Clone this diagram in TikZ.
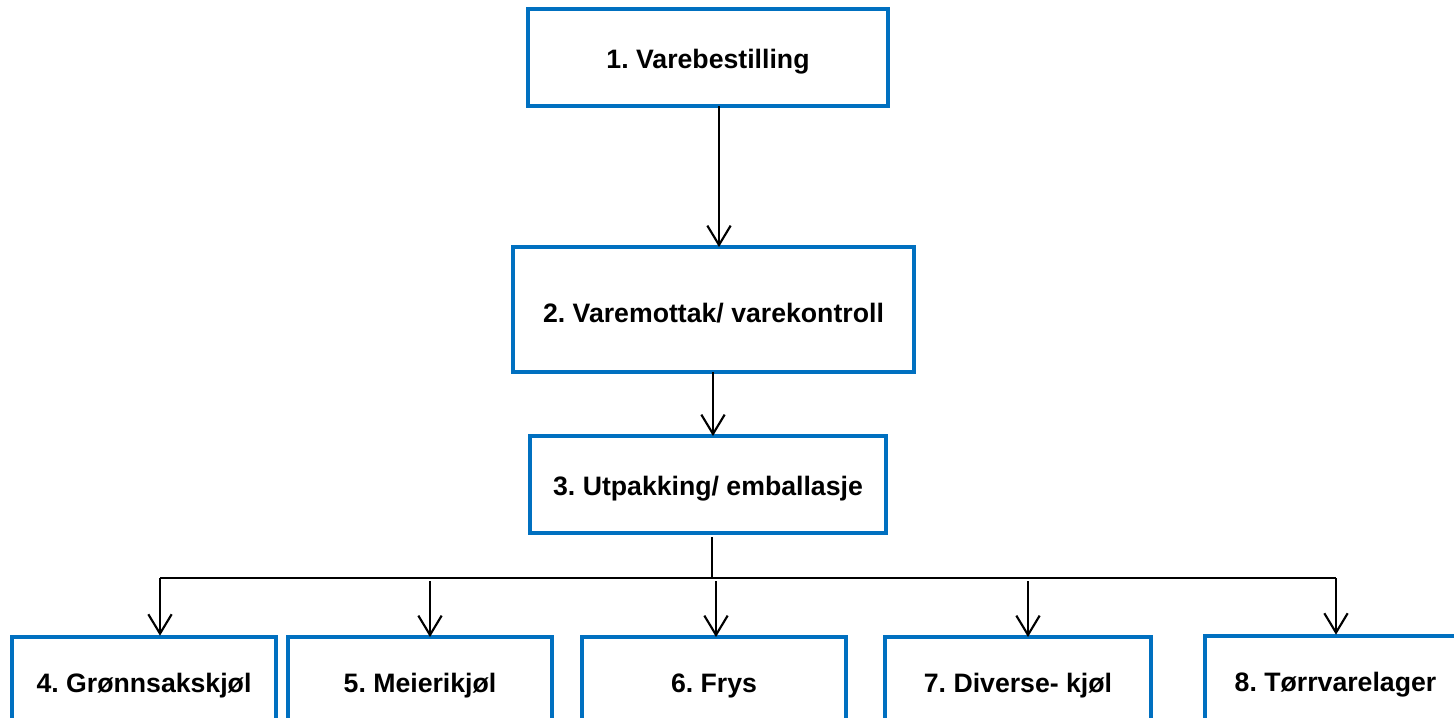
\documentclass[tikz,border=0pt]{standalone}
\usepackage{fontspec}
\setmainfont{Liberation Sans}
\usetikzlibrary{arrows.meta}
\definecolor{boxblue}{RGB}{0,112,192}
\frenchspacing
\newcommand{\lowtxt}[1]{\raisebox{-3pt}[\height][\depth]{#1}}
\tikzset{
  stepbox/.style={draw=boxblue, line width=3pt, rectangle, inner sep=0pt, outer sep=0pt,
    font=\fontsize{20}{24}\selectfont\bfseries, text=black, align=center},
  conn/.style={draw=black, line width=1.6pt},
  arr/.style={conn, -{Straight Barb[length=14.5pt,width=17.5pt,line width=1.6pt]}}
}
\begin{document}
\begin{tikzpicture}[x=0.75pt,y=-0.75pt]
\useasboundingbox (0,0) rectangle (1454,718);
\clip (0,0) rectangle (1454,718);
\node[stepbox, minimum width=270pt, minimum height=72.75pt] (b1) at (708,57.5) {\lowtxt{1. Varebestilling}};
\node[stepbox, minimum width=300.75pt, minimum height=93.75pt] (b2) at (713.5,309.5) {\lowtxt{2. Varemottak/ varekontroll}};
\node[stepbox, minimum width=267pt, minimum height=72.75pt] (b3) at (708,484.5) {\lowtxt{3. Utpakking/ emballasje}};
\node[stepbox, minimum width=198pt, minimum height=67.5pt] (b4) at (144,682) {\lowtxt{4. Grønnsakskjøl}};
\node[stepbox, minimum width=198pt, minimum height=67.5pt] (b5) at (420,682) {\lowtxt{5. Meierikjøl}};
\node[stepbox, minimum width=198pt, minimum height=67.5pt] (b6) at (714,682) {\lowtxt{6. Frys}};
\node[stepbox, minimum width=199.5pt, minimum height=67.5pt] (b7) at (1018,682) {\lowtxt{7. Diverse- kjøl}};
\node[stepbox, minimum width=196.5pt, minimum height=67.5pt] (b8) at (1335.5,681) {\lowtxt{8. Tørrvarelager}};
% connectors
\coordinate (a1) at (719,0);
\coordinate (a2) at (713,0);
\coordinate (split) at (712,578);
\coordinate (hL) at (160,578);
\coordinate (hR) at (1336,578);
\coordinate (t5) at (430,581);
\coordinate (t6) at (716,581);
\coordinate (t7) at (1028,581);
\draw[arr] (b1.south -| a1) -- (b2.north -| a1);
\draw[arr] (b2.south -| a2) -- (b3.north -| a2);
\draw[conn] ([yshift=-3pt]b3.south -| split) -- (split);
\draw[conn] (hL) -- (hR);
\draw[arr] (hL) -- ([yshift=1pt]hL |- b4.north);
\draw[arr] (t5) -- (t5 |- b5.north);
\draw[arr] (t6) -- (t6 |- b6.north);
\draw[arr] (t7) -- (t7 |- b7.north);
\draw[arr] (hR) -- ([yshift=1pt]hR |- b8.north);
\end{tikzpicture}
\end{document}
